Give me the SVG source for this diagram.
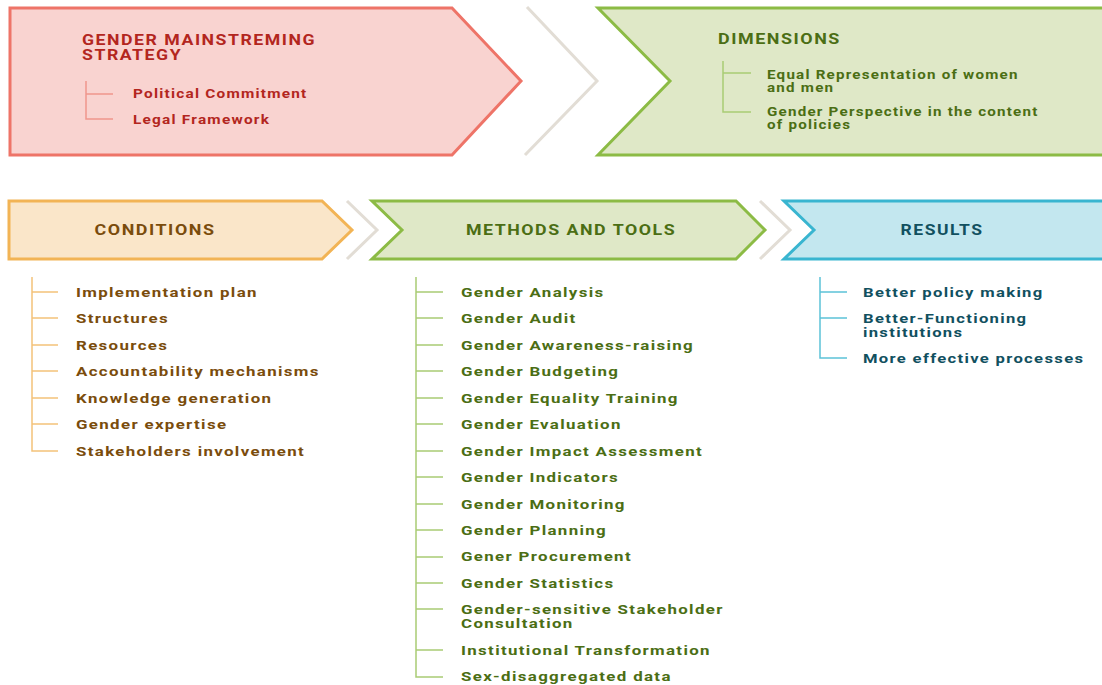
<svg xmlns="http://www.w3.org/2000/svg" width="1102" height="685" viewBox="0 0 1102 685">
<style>
text{font-family:Roboto,"Liberation Sans",sans-serif;font-weight:700;}
.h{font-size:14px;letter-spacing:1.2px;}
.t{font-size:13px;letter-spacing:1.04px;}
.red{fill:#b3261e;}
.grn{fill:#4b6e14;}
.org{fill:#7a4c0c;}
.blu{fill:#11505f;}
.br{fill:none;stroke-width:1.5;}
.brr{stroke:#f0968c;}
.brg{stroke:#a9cc74;}
.bro{stroke:#f4c27a;}
.brb{stroke:#5cc2d8;}
.chev{fill:none;stroke:#e2ddd5;stroke-width:3;}
</style>
<rect width="1102" height="685" fill="#ffffff"/>
<g id="connectors">
<polyline class="chev" points="527,7 597,81 525,155"/>
<polyline class="chev" points="347,201 377,230 347,259"/>
<polyline class="chev" points="760,201 790,230 760,259"/>
</g>
<g id="strategy">
<polygon points="10,8 452,8 521,81 452,155 10,155" fill="#f9d3d0" stroke="#ee7468" stroke-width="3"/>
<g transform="translate(82,0) scale(1.265,1)">
<text class="h red" x="0" y="45.5">GENDER MAINSTREMING</text>
<text class="h red" x="0" y="60.5">STRATEGY</text>
</g>
<path class="br brr" d="M86,81 V119 H113 M86,94 H113"/>
<g transform="translate(133,0) scale(1.183,1)">
<text class="t red" x="0" y="98.5">Political Commitment</text>
<text class="t red" x="0" y="124">Legal Framework</text>
</g>
</g>
<g id="dimensions">
<polygon points="598,8 1106,8 1106,155 598,155 670,81" fill="#dfe8c7" stroke="#8cbb45" stroke-width="3"/>
<g transform="translate(718,0) scale(1.28,1)">
<text class="h grn" x="0" y="44">DIMENSIONS</text>
</g>
<path class="br brg" d="M723,61 V112 H751 M723,73 H751"/>
<g transform="translate(767,0) scale(1.168,1)">
<text class="t grn" x="0" y="79">Equal Representation of women</text>
<text class="t grn" x="0" y="92">and men</text>
<text class="t grn" x="0" y="116.5">Gender Perspective in the content</text>
<text class="t grn" x="0" y="129.5">of policies</text>
</g>
</g>
<g id="conditions">
<polygon points="9,201 322,201 352,230 322,259 9,259" fill="#fae6c9" stroke="#f2b455" stroke-width="3"/>
<g transform="translate(155,0) scale(1.28,1)">
<text class="h org" x="0" y="235" text-anchor="middle">CONDITIONS</text>
</g>
<path class="br bro" d="M32,277 V451 H58 M32,292 H58 M32,318 H58 M32,345 H58 M32,371 H58 M32,398 H58 M32,424 H58"/>
<g transform="translate(76,0) scale(1.298,1)">
<text class="t org" x="0" y="297">Implementation plan</text>
<text class="t org" x="0" y="323">Structures</text>
<text class="t org" x="0" y="350">Resources</text>
<text class="t org" x="0" y="376">Accountability mechanisms</text>
<text class="t org" x="0" y="403">Knowledge generation</text>
<text class="t org" x="0" y="429">Gender expertise</text>
<text class="t org" x="0" y="456">Stakeholders involvement</text>
</g>
</g>
<g id="methods">
<polygon points="372,201 736,201 765,230 736,259 372,259 402,230" fill="#dfe8c7" stroke="#8cbb45" stroke-width="3"/>
<g transform="translate(571,0) scale(1.27,1)">
<text class="h grn" x="0" y="235" text-anchor="middle">METHODS AND TOOLS</text>
</g>
<path class="br brg" d="M416,277 V677 H443 M416,292 H443 M416,318 H443 M416,345 H443 M416,371 H443 M416,398 H443 M416,424 H443 M416,451 H443 M416,477 H443 M416,504 H443 M416,530 H443 M416,557 H443 M416,583 H443 M416,609 H443 M416,650 H443"/>
<g transform="translate(461,0) scale(1.298,1)">
<text class="t grn" x="0" y="297">Gender Analysis</text>
<text class="t grn" x="0" y="323">Gender Audit</text>
<text class="t grn" x="0" y="350">Gender Awareness-raising</text>
<text class="t grn" x="0" y="376">Gender Budgeting</text>
<text class="t grn" x="0" y="403">Gender Equality Training</text>
<text class="t grn" x="0" y="429">Gender Evaluation</text>
<text class="t grn" x="0" y="456">Gender Impact Assessment</text>
<text class="t grn" x="0" y="482">Gender Indicators</text>
<text class="t grn" x="0" y="509">Gender Monitoring</text>
<text class="t grn" x="0" y="535">Gender Planning</text>
<text class="t grn" x="0" y="561.5">Gener Procurement</text>
<text class="t grn" x="0" y="588">Gender Statistics</text>
<text class="t grn" x="0" y="614">Gender-sensitive Stakeholder</text>
<text class="t grn" x="0" y="628">Consultation</text>
<text class="t grn" x="0" y="655">Institutional Transformation</text>
<text class="t grn" x="0" y="681.5">Sex-disaggregated data</text>
</g>
</g>
<g id="results">
<polygon points="784,201 1106,201 1106,259 784,259 814,230" fill="#c3e7ef" stroke="#39b5d0" stroke-width="3"/>
<g transform="translate(942,0) scale(1.25,1)">
<text class="h blu" x="0" y="235" text-anchor="middle">RESULTS</text>
</g>
<path class="br brb" d="M820,277 V358 H847 M820,292 H847 M820,318 H847"/>
<g transform="translate(863,0) scale(1.279,1)">
<text class="t blu" x="0" y="297">Better policy making</text>
<text class="t blu" x="0" y="323">Better-Functioning</text>
<text class="t blu" x="0" y="337">institutions</text>
<text class="t blu" x="0" y="363">More effective processes</text>
</g>
</g>
</svg>
